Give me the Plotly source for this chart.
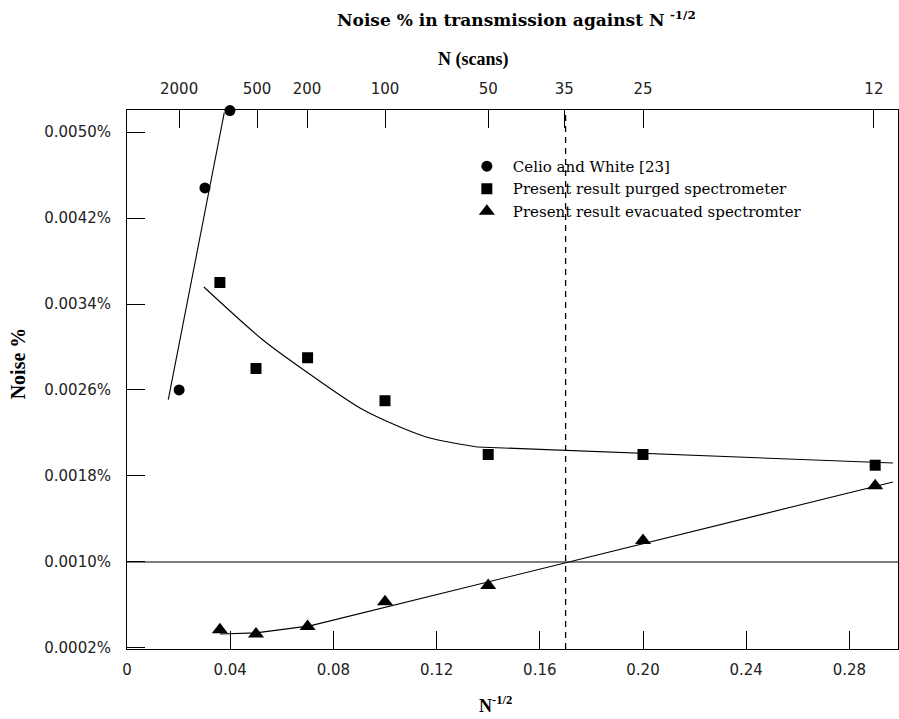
import plotly.graph_objects as go

# Bottom axis: N^-1/2
x_ticks = [0, 0.04, 0.08, 0.12, 0.16, 0.20, 0.24, 0.28]
x_tick_labels = ["0", "0.04", "0.08", "0.12", "0.16", "0.20", "0.24", "0.28"]

# Top axis: number of scans
scan_ticks = [0.0202, 0.0504, 0.0698, 0.1, 0.14, 0.1695, 0.2, 0.2895]
scan_labels = ["2000", "500", "200", "100", "50", "35", "25", "12"]

# Left axis: noise %
y_ticks = [0.0002, 0.0010, 0.0018, 0.0026, 0.0034, 0.0042, 0.0050]
y_tick_labels = ["0.0002%", "0.0010%", "0.0018%", "0.0026%", "0.0034%", "0.0042%", "0.0050%"]

# Celio and White [23]
celio_x = [0.0202, 0.0302, 0.0399]
celio_y = [0.0026, 0.00448, 0.0052]
celio_fit_x = [0.0160, 0.0377]
celio_fit_y = [0.00251, 0.00518]

# Present result, purged spectrometer
purged_x = [0.036, 0.05, 0.07, 0.10, 0.14, 0.20, 0.29]
purged_y = [0.0036, 0.0028, 0.0029, 0.0025, 0.0020, 0.0020, 0.0019]
purged_curve_x = [0.0298, 0.0527, 0.0702, 0.0903, 0.1058, 0.1174, 0.1357]
purged_curve_y = [0.003558, 0.003065, 0.002758, 0.002433, 0.002256, 0.002153, 0.00207]
purged_tail_x = [0.1357, 0.2969]
purged_tail_y = [0.00207, 0.00192]

# Present result, evacuated spectrometer
evac_x = [0.036, 0.05, 0.07, 0.10, 0.14, 0.20, 0.29]
evac_y = [0.00037, 0.00033, 0.00040, 0.00063, 0.00078, 0.00120, 0.00171]
evac_fit_x = [0.036, 0.05, 0.0709, 0.2969]
evac_fit_y = [0.00033, 0.00034, 0.000405, 0.001744]

# Reference lines
crossover_x = 0.17
level_y = 0.0010

x_range = [0, 0.29884]
y_range = [0.00019, 0.005205]

serif = "Liberation Serif"
wide_serif = "DejaVu Serif"
sans = "DejaVu Sans"
ink = "black"

fig = go.Figure()

line_style = dict(color=ink, width=1.1)

fig.add_trace(go.Scatter(x=celio_fit_x, y=celio_fit_y, mode="lines",
                         line=line_style, showlegend=False, hoverinfo="skip"))
fig.add_trace(go.Scatter(x=purged_curve_x, y=purged_curve_y, mode="lines",
                         line=dict(color=ink, width=1.1, shape="spline", smoothing=0.8),
                         showlegend=False, hoverinfo="skip"))
fig.add_trace(go.Scatter(x=purged_tail_x, y=purged_tail_y, mode="lines",
                         line=line_style, showlegend=False, hoverinfo="skip"))
fig.add_trace(go.Scatter(x=evac_fit_x, y=evac_fit_y, mode="lines",
                         line=line_style, showlegend=False, hoverinfo="skip"))

fig.add_trace(go.Scatter(x=celio_x, y=celio_y, mode="markers", name="Celio and White [23]",
                         marker=dict(symbol="circle", size=11, color=ink), cliponaxis=False))
fig.add_trace(go.Scatter(x=purged_x, y=purged_y, mode="markers",
                         name="Present result purged spectrometer",
                         marker=dict(symbol="square", size=11, color=ink), cliponaxis=False))
fig.add_trace(go.Scatter(x=evac_x, y=evac_y, mode="markers",
                         name="Present result evacuated spectromter",
                         marker=dict(symbol="triangle-up", size=14, color=ink), cliponaxis=False))

# carrier trace so the top scan axis is drawn
fig.add_trace(go.Scatter(x=[crossover_x], y=[level_y], xaxis="x2", mode="markers",
                         marker=dict(opacity=0), showlegend=False, hoverinfo="skip"))

fig.add_shape(type="line", xref="x", yref="y", x0=crossover_x, x1=crossover_x,
              y0=y_range[0], y1=y_range[1], line=dict(color=ink, width=1.3, dash="6px,5px"))
fig.add_shape(type="line", xref="paper", yref="y", x0=0, x1=1, y0=level_y, y1=level_y,
              line=dict(color=ink, width=1.1))

tick_font = dict(family=sans, size=15, color="#222")

fig.update_layout(
    width=899, height=719,
    margin=dict(l=127, r=1, t=110, b=70),
    paper_bgcolor="white", plot_bgcolor="white",
    showlegend=True,
    legend=dict(x=0.433, y=0.926, xanchor="left", yanchor="top",
                font=dict(family=wide_serif, size=15, color=ink),
                bgcolor="rgba(0,0,0,0)", tracegroupgap=0, itemsizing="trace",
                itemwidth=42),
    xaxis=dict(range=x_range, tickvals=x_ticks, ticktext=x_tick_labels,
               ticks="inside", ticklen=18, tickwidth=1, tickcolor=ink,
               showline=True, linecolor=ink, linewidth=1, showgrid=False, zeroline=False,
               tickfont=tick_font, ticklabelstandoff=7),
    xaxis2=dict(range=x_range, overlaying="x", side="top", anchor="y",
                tickvals=scan_ticks, ticktext=scan_labels,
                ticks="inside", ticklen=18, tickwidth=1, tickcolor=ink,
                showline=True, linecolor=ink, linewidth=1, showgrid=False, zeroline=False,
                tickfont=tick_font, ticklabelstandoff=9),
    yaxis=dict(range=y_range, tickvals=y_ticks, ticktext=y_tick_labels,
               ticks="inside", ticklen=18, tickwidth=1, tickcolor=ink,
               showline=True, linecolor=ink, linewidth=1, mirror=True,
               showgrid=False, zeroline=False, tickfont=tick_font, ticklabelstandoff=12),
)

fig.add_annotation(text="<b>Noise % in transmission against N</b> <sup><b>-1/2</b></sup>",
                   xref="paper", yref="paper", x=0.505, y=1, yshift=91, showarrow=False,
                   font=dict(family=wide_serif, size=17, color=ink),
                   xanchor="center", yanchor="middle")
fig.add_annotation(text="<b>N (scans)</b>", xref="paper", yref="paper", x=0.449, y=1,
                   yshift=51, showarrow=False, font=dict(family=serif, size=18, color=ink),
                   xanchor="center", yanchor="middle")
fig.add_annotation(text="<b>N</b><sup><b>-1/2</b></sup>", xref="paper", yref="paper",
                   x=0.478, y=0, yshift=-55, showarrow=False,
                   font=dict(family=serif, size=18, color=ink),
                   xanchor="center", yanchor="middle")
fig.add_annotation(text="<b>Noise %</b>", xref="paper", yref="paper", x=0, xshift=-109,
                   y=0.53, showarrow=False, font=dict(family=serif, size=20, color=ink),
                   textangle=-90, xanchor="center", yanchor="middle")

fig.write_html("out.html")
